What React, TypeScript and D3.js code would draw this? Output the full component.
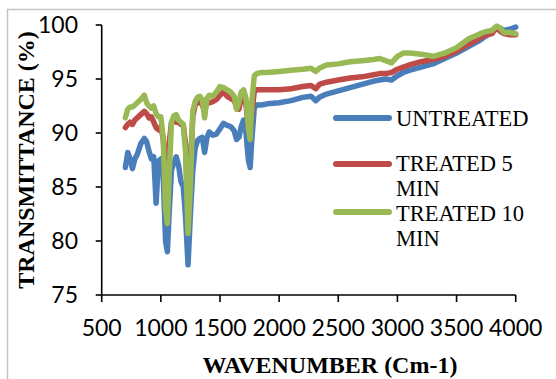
import { useEffect, useRef } from 'react';
import * as d3 from 'd3';

const wavenumbers = [
  700, 720, 740, 760, 780, 800, 830, 860, 880, 900, 920, 940, 960, 980, 1000, 1020, 1040, 1055, 1070, 1090,
  1110, 1130, 1150, 1170, 1190, 1210, 1230, 1250, 1270, 1290, 1310, 1330, 1350, 1370, 1390, 1410, 1440, 1470,
  1500, 1530, 1560, 1590, 1620, 1640, 1660, 1680, 1700, 1720, 1740, 1755, 1770, 1790, 1810, 1850, 1900, 2000,
  2100, 2200, 2270, 2310, 2340, 2400, 2500, 2600, 2700, 2800, 2850, 2900, 2950, 3000, 3050, 3100, 3200, 3300,
  3400, 3500, 3600, 3700, 3750, 3800, 3840, 3870, 3900, 3950, 4000,
];

const untreated = [
  86.8, 88.2, 87.6, 86.7, 87.6, 88.0, 89.0, 89.5, 89.2, 88.3, 87.6, 87.8, 83.5, 87.4, 87.6, 86.0, 80.0, 79.0, 82.5, 86.6,
  87.2, 87.8, 87.0, 85.5, 85.0, 82.0, 77.8, 82.5, 86.5, 88.6, 89.3, 89.5, 89.6, 88.2, 89.6, 90.1, 89.8, 89.9,
  90.4, 90.9, 90.7, 90.6, 90.2, 89.4, 89.6, 90.6, 91.2, 90.0, 87.5, 86.8, 89.5, 92.3, 92.6, 92.6, 92.7, 92.8,
  93.0, 93.3, 93.4, 93.0, 93.3, 93.6, 93.9, 94.2, 94.5, 94.8, 94.9, 95.0, 94.9, 95.3, 95.6, 95.8, 96.1, 96.4,
  96.9, 97.4, 98.0, 98.6, 99.0, 99.3, 99.8, 99.7, 99.5, 99.6, 99.8,
];

const treated5 = [
  90.5, 90.8, 91.0, 90.8, 91.2, 91.4, 91.7, 92.0, 91.8, 91.4, 91.5, 91.0, 90.5, 90.3, 90.6, 89.5, 86.0, 86.2, 89.0, 91.0,
  91.1, 91.0, 91.0, 90.8, 90.7, 89.0, 81.5, 86.5, 91.5, 92.6, 92.8, 92.9, 92.6, 92.0, 92.9, 92.8, 92.9, 93.1,
  93.5, 93.8, 93.4, 93.2, 93.0, 92.4, 92.2, 93.2, 93.6, 92.6, 90.5, 89.8, 92.0, 93.8, 94.0, 94.0, 94.0, 94.0,
  94.1, 94.3, 94.4, 94.1, 94.5, 94.7, 94.9, 95.1, 95.2, 95.4, 95.5, 95.5, 95.6, 95.9, 96.1, 96.3, 96.6, 96.8,
  97.1, 97.6, 98.2, 98.8, 99.1, 99.2, 99.8, 99.4, 99.2, 99.1, 99.1,
];

const treated10 = [
  91.4, 92.2, 92.4, 92.4, 92.6, 92.8, 93.1, 93.5, 92.8, 92.5, 92.3, 92.5, 91.8, 91.5, 91.5, 89.5, 83.0, 81.6, 86.0, 91.0,
  91.6, 91.7, 91.2, 91.0, 90.8, 88.0, 80.7, 85.0, 92.0, 92.9, 93.3, 93.4, 93.1, 91.4, 93.2, 93.5, 93.4, 93.8,
  94.3, 94.2, 94.0, 93.8, 93.4, 92.2, 92.8, 93.8, 94.0, 93.2, 90.5, 89.4, 93.0, 95.3, 95.5, 95.6, 95.6, 95.7,
  95.8, 95.9, 96.0, 95.7, 96.0, 96.3, 96.4, 96.6, 96.7, 96.8, 96.9, 96.7, 96.5, 97.1, 97.4, 97.4, 97.3, 97.1,
  97.4, 97.9, 98.7, 99.2, 99.4, 99.5, 99.9, 99.7, 99.3, 99.3, 99.2,
];

const seriesNames = ['UNTREATED', 'TREATED 5 MIN', 'TREATED 10 MIN'];
const seriesColors = ['#4A7EBB', '#BE4B48', '#98B954'];
const xTicks = [500, 1000, 1500, 2000, 2500, 3000, 3500, 4000];
const yTicks = [75, 80, 85, 90, 95, 100];

export default function App() {
  const ref = useRef<SVGSVGElement>(null);

  useEffect(() => {
    const svg = d3.select(ref.current);
    svg.selectAll('*').remove();

    const x = d3.scaleLinear().domain([500, 4000]).range([101.7, 515.7]);
    const y = d3.scaleLinear().domain([75, 100]).range([295, 25]);

    // chart area border (cut off right / bottom like the source)
    svg.append('rect')
      .attr('x', 7.5).attr('y', 9.5)
      .attr('width', 600).attr('height', 420)
      .attr('fill', '#fff')
      .attr('stroke', '#c4c4c4')
      .attr('stroke-width', 1.5);

    const allSeries = [untreated, treated5, treated10];
    const line = d3.line<number>()
      .x((_, i) => x(wavenumbers[i]))
      .y(d => y(d))
      .curve(d3.curveLinear);

    allSeries.forEach((vals, k) => {
      svg.append('path')
        .datum(vals)
        .attr('d', line)
        .attr('fill', 'none')
        .attr('stroke', seriesColors[k])
        .attr('stroke-width', 5.5)
        .attr('stroke-linejoin', 'round')
        .attr('stroke-linecap', 'round');
    });

    // axes
    const axisColor = '#000';
    svg.append('line')
      .attr('x1', x(500)).attr('x2', x(500))
      .attr('y1', y(100)).attr('y2', y(75))
      .attr('stroke', axisColor).attr('stroke-width', 1.6);
    svg.append('line')
      .attr('x1', x(500)).attr('x2', x(4000))
      .attr('y1', y(75)).attr('y2', y(75))
      .attr('stroke', axisColor).attr('stroke-width', 1.6);

    const tickFont = 'Lato, "Open Sans", sans-serif';

    yTicks.forEach(t => {
      svg.append('line')
        .attr('x1', x(500) - 6).attr('x2', x(500))
        .attr('y1', y(t)).attr('y2', y(t))
        .attr('stroke', axisColor).attr('stroke-width', 1.6);
      svg.append('text')
        .attr('x', 78).attr('y', y(t) + 8)
        .attr('text-anchor', 'end')
        .attr('font-family', tickFont)
        .attr('font-size', 23)
        .attr('fill', '#000')
        .text(t);
    });

    xTicks.forEach(t => {
      svg.append('line')
        .attr('x1', x(t)).attr('x2', x(t))
        .attr('y1', y(75)).attr('y2', y(75) + 7)
        .attr('stroke', axisColor).attr('stroke-width', 1.6);
      svg.append('text')
        .attr('x', x(t)).attr('y', 336)
        .attr('text-anchor', 'middle')
        .attr('font-family', tickFont)
        .attr('font-size', 23)
        .attr('fill', '#000')
        .text(t);
    });

    // axis titles
    svg.append('text')
      .attr('x', 330).attr('y', 373)
      .attr('text-anchor', 'middle')
      .attr('font-family', '"Liberation Serif", "Times New Roman", serif')
      .attr('font-weight', 'bold')
      .attr('font-size', 24)
      .text('WAVENUMBER (Cm-1)');

    svg.append('text')
      .attr('transform', 'translate(34,160) rotate(-90)')
      .attr('text-anchor', 'middle')
      .attr('font-family', '"Liberation Serif", "Times New Roman", serif')
      .attr('font-weight', 'bold')
      .attr('font-size', 24)
      .text('TRANSMITTANCE (%)');

    // legend
    const legendRows = [
      { lineY: 118, lines: ['UNTREATED'], baseline: 126 },
      { lineY: 164, lines: ['TREATED 5', 'MIN'], baseline: 171 },
      { lineY: 212, lines: ['TREATED 10', 'MIN'], baseline: 221 },
    ];
    legendRows.forEach((row, k) => {
      svg.append('line')
        .attr('x1', 336).attr('x2', 389)
        .attr('y1', row.lineY).attr('y2', row.lineY)
        .attr('stroke', seriesColors[k])
        .attr('stroke-width', 6)
        .attr('stroke-linecap', 'round')
        .attr('aria-label', seriesNames[k]);
      const txt = svg.append('text')
        .attr('font-family', '"Liberation Serif", "Times New Roman", serif')
        .attr('font-size', 22.5)
        .attr('fill', '#000');
      row.lines.forEach((l, i) => {
        txt.append('tspan')
          .attr('x', 396)
          .attr('y', row.baseline + i * 25)
          .text(l);
      });
    });
  }, []);

  return (
    <svg
      ref={ref}
      width={556}
      height={379}
      style={{ position: 'absolute', left: 0, top: 0, background: '#fff' }}
    />
  );
}
